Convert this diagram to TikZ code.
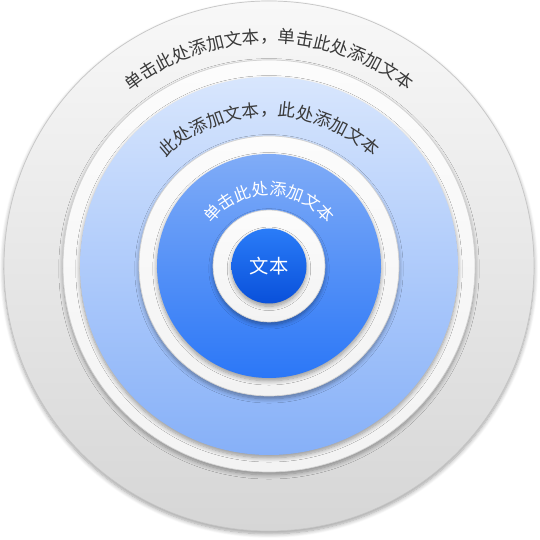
\documentclass[tikz,border=0pt]{standalone}
\usepackage{fontspec}
\setmainfont{Noto Sans CJK SC}
\usetikzlibrary{shadows.blur, decorations.text}
\definecolor{greytop}{HTML}{F8F8F8}
\definecolor{greymid}{HTML}{EDEDED}
\definecolor{greybot}{HTML}{D6D6D6}
\definecolor{greyedge}{HTML}{C6C6C6}
\definecolor{ringtop}{HTML}{FCFCFC}
\definecolor{ringbot}{HTML}{F3F3F3}
\definecolor{ringedge}{HTML}{D2D2D2}
\definecolor{palebluetop}{HTML}{D8E6FD}
\definecolor{palebluemid}{HTML}{BAD3FB}
\definecolor{palebluebot}{HTML}{86B0F8}
\definecolor{midbluetop}{HTML}{80ACF7}
\definecolor{midbluemid}{HTML}{5C97F8}
\definecolor{midbluebot}{HTML}{2B77F7}
\definecolor{corebluetop}{HTML}{2A7CF8}
\definecolor{corebluebot}{HTML}{0950DA}
\definecolor{textgrey}{HTML}{3A3A3A}
\tikzstyle{disk}=[shape=circle,inner sep=0,blur shadow={shadow xshift=0pt,shadow yshift=-1.6pt,shadow blur radius=2.4pt,shadow blur steps=8,shadow opacity=38}]
\tikzstyle{whitering}=[disk,draw=ringedge,thin,top color=ringtop,bottom color=ringbot]
\tikzstyle{arclabel}=[decorate]

\begin{document}
\begin{tikzpicture}
\useasboundingbox (-5.38,-5.48) rectangle (5.42,5.32);

% discs, outside in
\node[disk,draw=greyedge,thin,top color=greytop,middle color=greymid,bottom color=greybot,minimum size=10.6cm] (outer) at (0,0) {};
\node[whitering,minimum size=8.24cm] (ringA) at (0,0) {};
\node[disk,top color=palebluetop,middle color=palebluemid,bottom color=palebluebot,minimum size=7.56cm] (pale) at (0,0) {};
\node[whitering,minimum size=5.2cm] (ringB) at (0,0) {};
\node[disk,top color=midbluetop,middle color=midbluemid,bottom color=midbluebot,minimum size=4.48cm] (mid) at (0,0) {};
\node[whitering,minimum size=2.24cm] (ringC) at (0,0) {};
\node[disk,top color=corebluetop,bottom color=corebluebot,minimum size=1.5cm,text=white,font=\fontsize{11}{13}\selectfont] (core) at (0,0) {文本};

% curved labels
\path[arclabel,decoration={text along path,text align=center,text color=textgrey,
 text={|\fontsize{10}{12}\selectfont|单击此处添加文本，单击此处添加文本}}]
 (170:4.46) arc[start angle=170,end angle=10,radius=4.46];
\path[arclabel,decoration={text along path,text align=center,text color=textgrey,
 text={|\fontsize{10}{12}\selectfont|此处添加文本，此处添加文本}}]
 (170:3.0) arc[start angle=170,end angle=10,radius=3.0];
\path[arclabel,decoration={text along path,text align=center,text color=white,
 text={|\fontsize{9.5}{11}\selectfont|单击此处添加文本}}]
 (175:1.42) arc[start angle=175,end angle=5,radius=1.42];
\end{tikzpicture}
\end{document}
